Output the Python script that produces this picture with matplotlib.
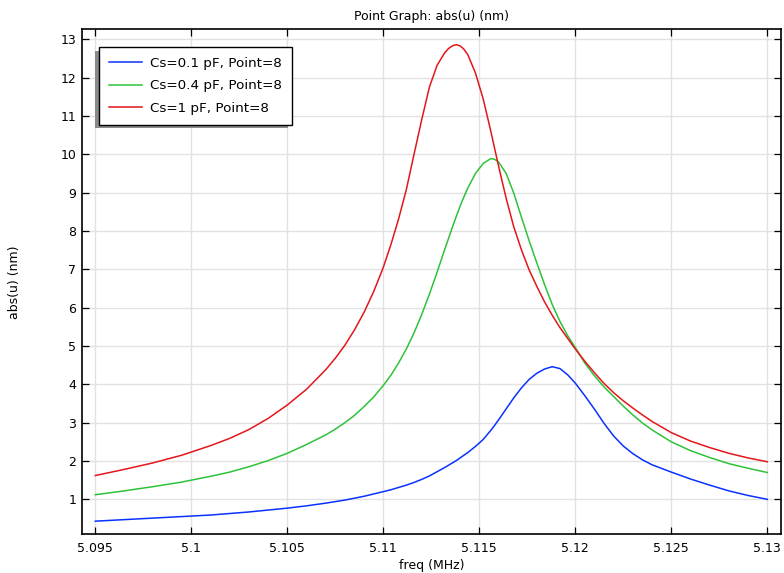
import matplotlib
matplotlib.use("Agg")
import matplotlib.pyplot as plt
from matplotlib.patches import Rectangle
from matplotlib.transforms import IdentityTransform

# ─────────────────────────────────────────────
# Data
# ─────────────────────────────────────────────
freq = [5.095, 5.0965, 5.098, 5.0995, 5.101, 5.102, 5.103, 5.104, 5.105, 5.106,
        5.107, 5.1075, 5.108, 5.1085, 5.109, 5.1095, 5.110, 5.1104, 5.1108, 5.1112,
        5.1116, 5.112, 5.1124, 5.1128, 5.1132, 5.1134, 5.1136, 5.1138, 5.114, 5.1142,
        5.1144, 5.1148, 5.1152, 5.1156, 5.1158, 5.116, 5.1164, 5.1168, 5.1172, 5.1176,
        5.118, 5.1184, 5.1188, 5.1192, 5.1196, 5.12, 5.1205, 5.121, 5.1215, 5.122,
        5.1225, 5.123, 5.1235, 5.124, 5.125, 5.126, 5.127, 5.128, 5.129, 5.13]

# Cs = 0.1 pF
abs_u_01 = [0.43, 0.47, 0.51, 0.55, 0.59, 0.63, 0.67, 0.72, 0.77, 0.83,
            0.90, 0.94, 0.98, 1.03, 1.08, 1.14, 1.20, 1.25, 1.31, 1.37,
            1.44, 1.52, 1.61, 1.72, 1.83, 1.89, 1.95, 2.01, 2.08, 2.15,
            2.22, 2.38, 2.56, 2.80, 2.93, 3.07, 3.36, 3.65, 3.91, 4.13,
            4.29, 4.40, 4.46, 4.41, 4.25, 4.03, 3.70, 3.35, 2.98, 2.65,
            2.39, 2.19, 2.03, 1.90, 1.71, 1.53, 1.37, 1.22, 1.10, 1.00]

# Cs = 0.4 pF
abs_u_04 = [1.12, 1.22, 1.33, 1.45, 1.60, 1.71, 1.85, 2.01, 2.20, 2.43,
            2.68, 2.83, 3.00, 3.19, 3.42, 3.67, 3.97, 4.24, 4.56, 4.92,
            5.34, 5.82, 6.35, 6.92, 7.52, 7.81, 8.10, 8.38, 8.65, 8.89,
            9.12, 9.50, 9.76, 9.89, 9.87, 9.80, 9.50, 8.98, 8.35, 7.74,
            7.16, 6.60, 6.08, 5.64, 5.27, 4.96, 4.55, 4.22, 3.93, 3.68,
            3.43, 3.20, 2.99, 2.81, 2.50, 2.27, 2.09, 1.93, 1.81, 1.70]

# Cs = 1 pF
abs_u_1 = [1.62, 1.78, 1.95, 2.15, 2.40, 2.59, 2.82, 3.11, 3.46, 3.87,
           4.38, 4.68, 5.02, 5.42, 5.88, 6.42, 7.05, 7.65, 8.32, 9.08,
           10.00, 10.90, 11.75, 12.32, 12.65, 12.76, 12.83, 12.86, 12.83, 12.74,
           12.60, 12.12, 11.45, 10.60, 10.15, 9.70, 8.85, 8.10, 7.50, 6.98,
           6.55, 6.15, 5.80, 5.48, 5.20, 4.92, 4.60, 4.30, 4.02, 3.78,
           3.57, 3.38, 3.20, 3.03, 2.74, 2.52, 2.35, 2.20, 2.08, 1.98]

labels = ["Cs=0.1 pF, Point=8", "Cs=0.4 pF, Point=8", "Cs=1 pF, Point=8"]
colors = ["#0a32ff", "#2ec23a", "#e3161b"]

xticks = [5.095, 5.1, 5.105, 5.11, 5.115, 5.12, 5.125, 5.13]
xtick_labels = ["5.095", "5.1", "5.105", "5.11", "5.115", "5.12", "5.125", "5.13"]
yticks = list(range(1, 14))

# ─────────────────────────────────────────────
# Plot
# ─────────────────────────────────────────────
fig = plt.figure(figsize=(7.84, 5.73), dpi=100)
ax = fig.add_axes([0.1042, 0.0675, 0.892, 0.8813])

for y, lab, c in zip([abs_u_01, abs_u_04, abs_u_1], labels, colors):
    ax.plot(freq, y, color=c, linewidth=1.1, label=lab)

ax.set_xlim(5.094292, 5.130714)
ax.set_ylim(0.087, 13.26)
ax.set_xticks(xticks)
ax.set_xticklabels(xtick_labels)
ax.set_yticks(yticks)

ax.grid(True, color="#e2e2e2", linewidth=1.0)
ax.set_axisbelow(True)
ax.tick_params(direction="in", length=5.3, width=0.9, labelsize=9,
               top=True, right=True, colors="black")
ax.tick_params(axis="x", pad=5.5)
ax.tick_params(axis="y", pad=4)
for sp in ax.spines.values():
    sp.set_linewidth(1.2)
    sp.set_color("black")

ax.set_title("Point Graph: abs(u) (nm)", fontsize=9, pad=7)
ax.set_xlabel("freq (MHz)", fontsize=9)
ax.set_ylabel("abs(u) (nm)", fontsize=9)
ax.xaxis.set_label_coords(0.5, -0.048)
ax.yaxis.set_label_coords(-0.0874, 0.5)

leg = ax.legend(loc="upper left", bbox_to_anchor=(0.0247, 0.965),
                borderaxespad=0, fontsize=9.7, fancybox=False,
                edgecolor="black", framealpha=1, handlelength=2.45,
                handletextpad=0.6, labelspacing=0.69, borderpad=0.74)
leg.get_frame().set_linewidth(1.0)

# COMSOL-style drop shadow, offset to lower left
fig.canvas.draw()
bb = leg.get_window_extent()
shadow = Rectangle((bb.x0 - 4, bb.y0 - 3.5), bb.width, bb.height,
                   transform=IdentityTransform(), facecolor="#8a8a8a",
                   edgecolor="none", zorder=4.5)
ax.add_patch(shadow)

plt.savefig("out.png", dpi=100)
plt.close()
